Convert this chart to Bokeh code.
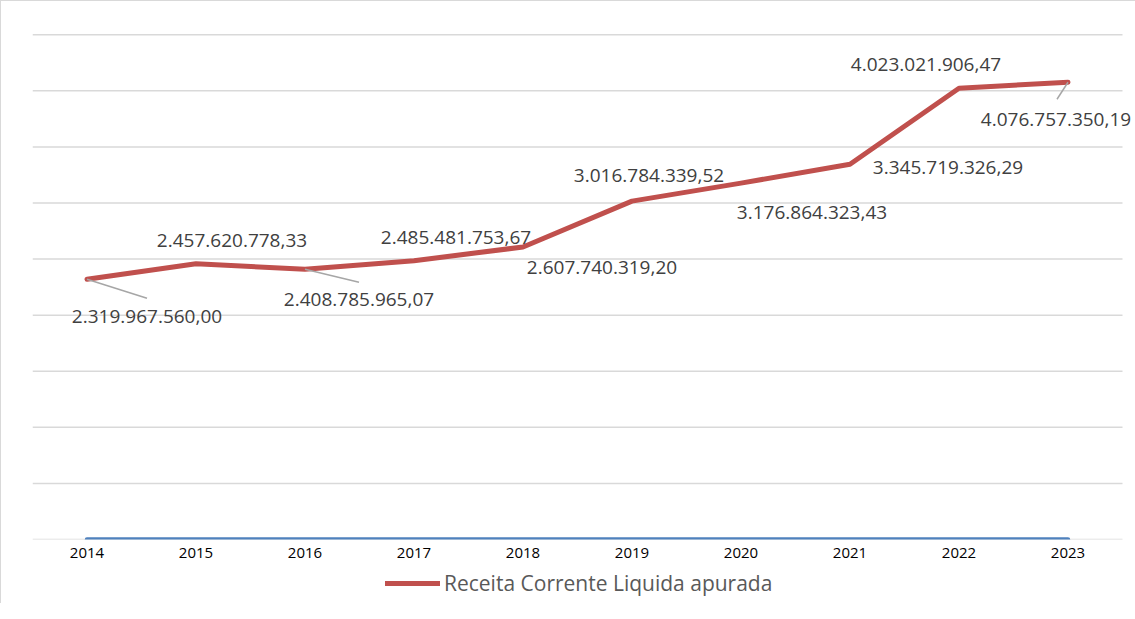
import math
from bokeh.plotting import figure
from bokeh.layouts import column
from bokeh.models import (FactorRange, Range1d, Legend, LegendItem, ColumnDataSource,
                          FixedTicker, LabelSet)
from bokeh.core.properties import value
from bokeh.embed import file_html
from bokeh.resources import INLINE

years = ["2014", "2015", "2016", "2017", "2018", "2019", "2020", "2021", "2022", "2023"]
receita = [2319967560.00, 2457620778.33, 2408785965.07, 2485481753.67, 2607740319.20,
           3016784339.52, 3176864323.43, 3345719326.29, 4023021906.47, 4076757350.19]
outra = [0, 0, 0, 0, 0, 0, 0, 0, 0, 0]
labels = ["2.319.967.560,00", "2.457.620.778,33", "2.408.785.965,07", "2.485.481.753,67",
          "2.607.740.319,20", "3.016.784.339,52", "3.176.864.323,43", "3.345.719.326,29",
          "4.023.021.906,47", "4.076.757.350,19"]
grid_ticks = [0, 5e8, 1e9, 1.5e9, 2e9, 2.5e9, 3e9, 3.5e9, 4e9, 4.5e9]
serie_nome = "Receita Corrente Liquida apurada"
# label pixel offsets (style)
dx = [60, 36, 54, 42, 79, 17, 71, 98, -33, -12]
dy = [-37, 23, -30, 23, -21, 26, -29, -3, 24, -37]

RED = "#c0504d"
BLUE = "#4f81bd"
GRID = "#d9d9d9"

n = len(years)
xs = list(range(n))
px_per_cat = 108.9
extra = 11 / px_per_cat   # room on the right so the last label is not clipped

p = figure(frame_width=1100, frame_height=506, x_range=Range1d(-0.5, n - 0.5 + extra),
           y_range=Range1d(0, 4.52e9), output_backend="svg", toolbar_location=None,
           min_border_left=31, min_border_right=3, min_border_top=31, min_border_bottom=10)
p.outline_line_color = None
p.background_fill_color = "white"
p.yaxis.visible = False
p.grid.visible = False
p.xaxis.ticker = FixedTicker(ticks=xs)
p.xaxis.major_label_overrides = {i: y for i, y in zip(xs, years)}
p.xaxis.axis_line_color = None
p.xaxis.major_tick_line_color = None
p.xaxis.minor_tick_line_color = None
p.xaxis.major_label_text_font = "Open Sans"
p.xaxis.major_label_text_font_size = "15px"
p.xaxis.major_label_text_color = "black"
p.xaxis.major_label_standoff = 2
p.styles = {"border-left": "1px solid #d9d9d9", "border-top": "1px solid #d9d9d9"}

# horizontal gridlines spanning the category band
gsrc = ColumnDataSource(dict(y=grid_ticks))
p.segment(x0=-0.5, x1=n - 0.5, y0="y", y1="y", source=gsrc, line_color=GRID, line_width=1.5)

src = ColumnDataSource(dict(x=xs, y=receita, z=outra, lab=labels, dx=dx, dy=dy))

p.line("x", "z", source=src, line_color=BLUE, line_width=4.5, line_cap="round")
p.line("x", "y", source=src, line_color=RED, line_width=5, line_cap="round", line_join="round")

# leader lines for displaced labels
lead_idx = [0, 2, 9]
lend = [(60, 19), (54, 13), (-11, 17)]
for k, i in enumerate(lead_idx):
    s = ColumnDataSource(dict(x=[xs[i]], y=[receita[i]]))
    ex, ey = lend[k]
    p.ray(x="x", y="y", source=s, length=math.hypot(ex, ey), length_units="screen",
          angle=-math.atan2(ey, ex), line_color="#a6a6a6", line_width=1.5)

p.add_layout(LabelSet(x="x", y="y", text="lab", source=src, x_offset="dx", y_offset="dy",
                      text_font=value("Open Sans"), text_font_size="19px", text_color="#404040",
                      text_align="center", text_baseline="middle"))

# legend strip beneath the chart (series drawn off-range so only the legend sample shows)
p2 = figure(width=1134, height=44, output_backend="svg", toolbar_location=None,
            x_axis_type=None, y_axis_type=None, min_border=0,
            x_range=FactorRange(*years), y_range=Range1d(0, 1))
p2.outline_line_color = None
p2.grid.visible = False
p2.styles = {"border-left": "1px solid #d9d9d9"}
r2 = p2.line(x=years, y=receita, line_color=RED, line_width=5, line_cap="round")
legend = Legend(items=[LegendItem(label=serie_nome, renderers=[r2])],
                orientation="horizontal", location=(353, 6),
                label_text_font="Open Sans", label_text_font_size="21px", label_text_color="#595959",
                glyph_width=55, glyph_height=20, border_line_color=None, background_fill_alpha=0,
                margin=0, padding=4, label_standoff=4)
p2.add_layout(legend)

layout = column(p, p2, spacing=0)
open("out.html", "w").write(file_html(layout, INLINE))
